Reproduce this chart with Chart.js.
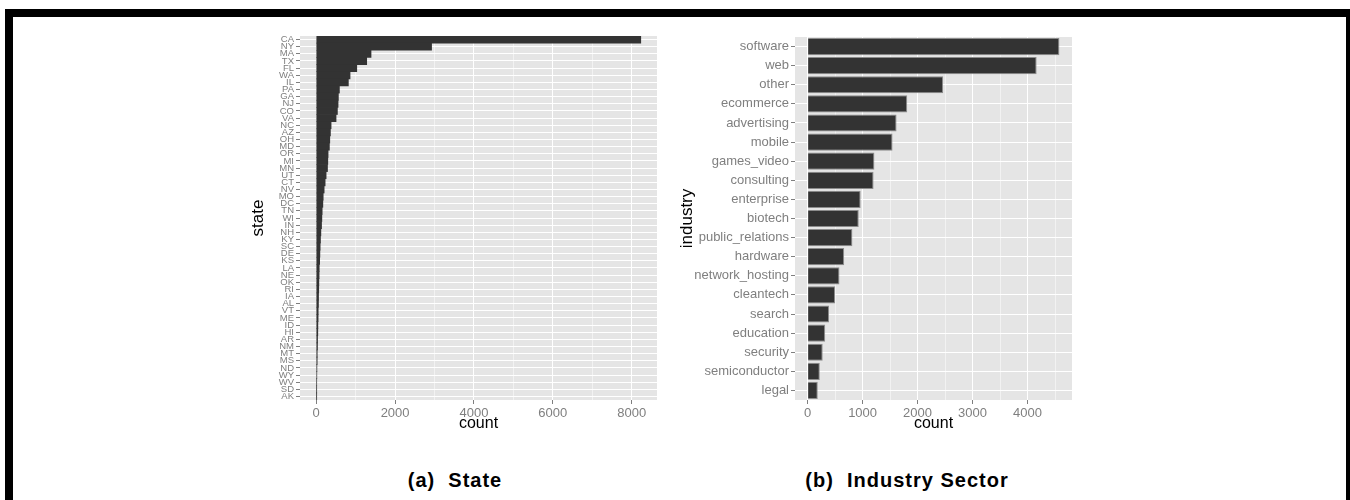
<!DOCTYPE html>
<html>
<head>
<meta charset="utf-8">
<title>Startups by state and industry sector</title>
<script src="https://cdn.jsdelivr.net/npm/chart.js@4/dist/chart.umd.min.js"></script>
<style>
  html, body { margin: 0; padding: 0; background: #fff; }
  body { width: 1350px; height: 500px; position: relative; overflow: hidden;
         font-family: "Liberation Sans", Arial, Helvetica, sans-serif; }
  #frame { position: absolute; left: 5px; top: 9px; width: 1333px; height: 500px;
           border-left: 8px solid #000; border-top: 8px solid #000; border-right: 4px solid #000; }
  canvas { position: absolute; }
  .cap { position: absolute; top: 469px; font-size: 20px; line-height: 22px; font-weight: bold;
         color: #000; text-align: center; letter-spacing: 1px; white-space: pre; }
</style>
</head>
<body>
<div id="frame"></div>
<canvas id="stateChart" width="430" height="420" style="left:240px;top:20px"></canvas>
<canvas id="industryChart" width="420" height="420" style="left:660px;top:20px"></canvas>
<div class="cap" style="left:355px;width:200px">(a)  State</div>
<div class="cap" style="left:757px;width:300px">(b)  Industry Sector</div>

<script>
// Number of companies per US state (sorted by count)
const states = ['CA','NY','MA','TX','FL','WA','IL','PA','GA','NJ','CO','VA','NC','AZ','OH','MD','OR',
  'MI','MN','UT','CT','NV','MO','DC','TN','WI','IN','NH','KY','SC','DE','KS','LA','NE','OK','RI',
  'IA','AL','VT','ME','ID','HI','AR','NM','MT','MS','ND','WY','WV','SD','AK'];
const stateCounts = [8230,2925,1390,1280,1028,858,815,588,562,554,537,503,377,360,344,334,301,
  294,286,251,226,201,177,168,151,143,135,118,108,100,93,88,76,73,67,64,59,57,50,48,42,40,34,32,
  25,24,17,15,10,8,7];
const stateTicks = [0, 1000, 2000, 3000, 4000, 5000, 6000, 7000, 8000];

// Number of companies per industry sector
const industries = ['software','web','other','ecommerce','advertising','mobile','games_video',
  'consulting','enterprise','biotech','public_relations','hardware','network_hosting','cleantech',
  'search','education','security','semiconductor','legal'];
const industryCounts = [4579,4165,2465,1812,1618,1545,1215,1200,965,930,815,665,580,500,390,320,275,222,185];
const industryTicks = [0, 500, 1000, 1500, 2000, 2500, 3000, 3500, 4000, 4500];

const FONT = '"Liberation Sans", Arial, Helvetica, sans-serif';
const GREY_TEXT = '#7F7F7F';

// grey panel behind the plotting area
const panelBg = {
  id: 'panelBg',
  beforeDraw(chart) {
    const { ctx, chartArea: a } = chart;
    ctx.save();
    ctx.fillStyle = '#E5E5E5';
    ctx.fillRect(a.left, a.top, a.right - a.left, a.bottom - a.top);
    ctx.restore();
  }
};

function countAxis(maxVal, tickValues, majorStep) {
  const isMajor = v => v % majorStep === 0;
  return {
    type: 'linear',
    min: -0.05 * maxVal,
    max: 1.05 * maxVal,
    afterBuildTicks: s => { s.ticks = tickValues.map(v => ({ value: v })); },
    afterFit: s => { s.height = 40; },
    border: { display: false },
    grid: {
      color: c => (c.tick && !isMajor(c.tick.value)) ? '#F2F2F2' : '#FFFFFF',
      tickColor: c => (c.tick && !isMajor(c.tick.value)) ? 'rgba(0,0,0,0)' : GREY_TEXT,
      lineWidth: 1,
      tickLength: 4
    },
    ticks: {
      autoSkip: false, maxRotation: 0, padding: 2, color: GREY_TEXT,
      font: { family: FONT, size: 13 },
      callback: v => isMajor(v) ? String(v) : ''
    },
    title: {
      display: true, text: 'count', color: '#000',
      font: { family: FONT, size: 16, lineHeight: 1 },
      padding: { top: 0, bottom: 8 }
    }
  };
}

function categoryAxis(width, labelSize, titleText, titleOffset) {
  return {
    type: 'category',
    afterFit: s => { s.width = width; },
    border: { display: false },
    grid: { offset: false, color: '#FFFFFF', lineWidth: 1, tickColor: GREY_TEXT, tickLength: 4 },
    ticks: { autoSkip: false, padding: 2, color: GREY_TEXT, font: { family: FONT, size: labelSize } },
    title: {
      display: true, text: titleText, color: '#000',
      font: { family: FONT, size: 17, lineHeight: 1 },
      padding: { top: titleOffset, bottom: 0 }
    }
  };
}

const common = {
  responsive: false,
  animation: false,
  indexAxis: 'y',
  plugins: { legend: { display: false }, tooltip: { enabled: false } }
};

new Chart(document.getElementById('stateChart'), {
  type: 'bar',
  data: {
    labels: states,
    datasets: [{
      data: stateCounts,
      backgroundColor: '#333333',
      borderWidth: 0,
      barPercentage: 1,
      categoryPercentage: 1
    }]
  },
  options: Object.assign({}, common, {
    layout: { padding: { top: 16, right: 13, left: 0, bottom: 0 } },
    scales: {
      x: countAxis(Math.max(...stateCounts), stateTicks, 2000),
      y: categoryAxis(60, 9.5, 'state', 10)
    }
  }),
  plugins: [panelBg]
});

new Chart(document.getElementById('industryChart'), {
  type: 'bar',
  data: {
    labels: industries,
    datasets: [{
      data: industryCounts,
      backgroundColor: '#333333',
      borderColor: '#8C8C8C',
      borderWidth: 1,
      barPercentage: 0.9,
      categoryPercentage: 1
    }]
  },
  options: Object.assign({}, common, {
    layout: { padding: { top: 17, right: 8, left: 0, bottom: 0 } },
    scales: {
      x: countAxis(Math.max(...industryCounts), industryTicks, 1000),
      y: categoryAxis(135, 13, 'industry', 18.5)
    }
  }),
  plugins: [panelBg]
});
</script>
</body>
</html>
